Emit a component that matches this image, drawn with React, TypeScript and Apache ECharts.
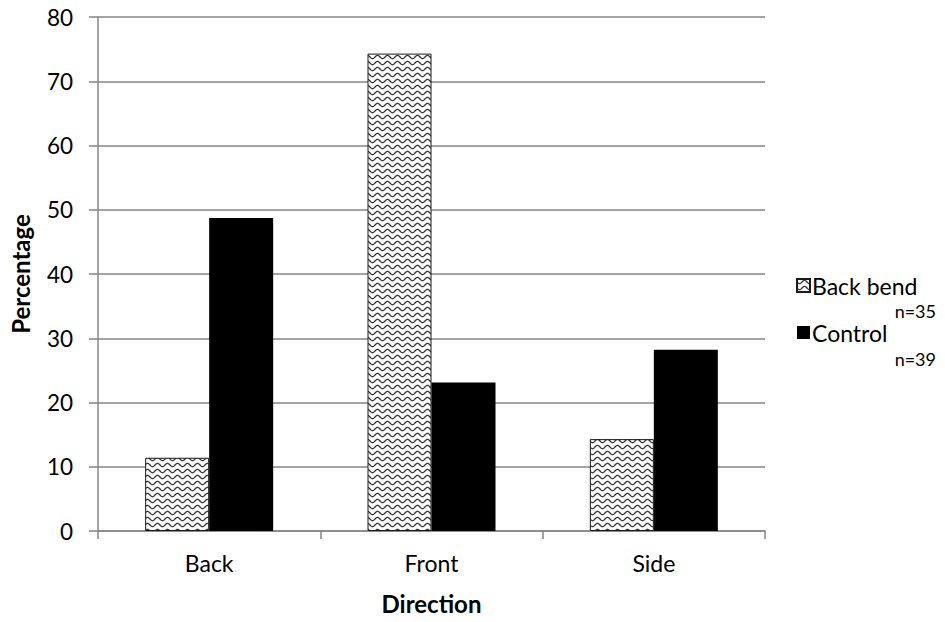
import React, { useEffect, useRef } from "react";
import * as echarts from "echarts";

const categories = ["Back", "Front", "Side"];
const backBend = [11.4, 74.3, 14.3];
const control = [48.7, 23.1, 28.2];
const seriesNames = ["Back bend", "Control"];
const sampleSizes = ["n=35", "n=39"];
const yTicks = { min: 0, max: 80, interval: 10 };

const FONT = "Lato, 'Open Sans', sans-serif";

function makeWavePattern(): HTMLCanvasElement {
  const c = document.createElement("canvas");
  c.width = 10;
  c.height = 6;
  const ctx = c.getContext("2d")!;
  ctx.fillStyle = "#ffffff";
  ctx.fillRect(0, 0, 10, 6);
  ctx.strokeStyle = "#333333";
  ctx.lineWidth = 1.3;
  ctx.beginPath();
  for (let x = -1; x <= 11; x += 0.5) {
    const y = 3 + 1.6 * Math.sin((2 * Math.PI * x) / 10);
    if (x === -1) ctx.moveTo(x, y);
    else ctx.lineTo(x, y);
  }
  ctx.stroke();
  return c;
}

export default function App() {
  const ref = useRef<HTMLDivElement>(null);
  useEffect(() => {
    if (!ref.current) return;
    const chart = echarts.init(ref.current, null, { renderer: "svg" });
    const pattern = { image: makeWavePattern(), repeat: "repeat" as const };
    chart.setOption({
      animation: false,
      backgroundColor: "#ffffff",
      grid: { left: 97, right: 180, top: 17, bottom: 91 },
      legend: {
        orient: "vertical",
        left: 791,
        top: 269,
        icon: "rect",
        itemWidth: 13,
        itemHeight: 13,
        itemGap: 24,
        data: seriesNames,
        textStyle: { fontFamily: FONT, fontSize: 23, color: "#000", lineHeight: 23, padding: [0, 0, 0, -3] },
      },
      graphic: [
        {
          type: "text",
          right: 9,
          top: 302,
          style: { text: sampleSizes[0], fontFamily: FONT, fontSize: 18, fill: "#000" },
        },
        {
          type: "text",
          right: 9,
          top: 350,
          style: { text: sampleSizes[1], fontFamily: FONT, fontSize: 18, fill: "#000" },
        },
      ],
      xAxis: {
        type: "category",
        data: categories,
        name: "Direction",
        nameLocation: "middle",
        nameGap: 60,
        nameTextStyle: { fontFamily: FONT, fontSize: 24, fontWeight: "bold", color: "#000", verticalAlign: "top" },
        axisLine: { lineStyle: { color: "#868686", width: 1.5 } },
        axisTick: { show: true, length: 8, lineStyle: { color: "#868686", width: 1.5 } },
        axisLabel: { fontFamily: FONT, fontSize: 23, color: "#000", margin: 20 },
      },
      yAxis: {
        type: "value",
        min: yTicks.min,
        max: yTicks.max,
        interval: yTicks.interval,
        name: "Percentage",
        nameLocation: "middle",
        nameGap: 66,
        nameRotate: 90,
        nameTextStyle: { fontFamily: FONT, fontSize: 24, fontWeight: "bold", color: "#000" },
        axisLine: { show: true, lineStyle: { color: "#868686", width: 1.5 } },
        axisTick: { show: true, length: 9, lineStyle: { color: "#868686", width: 1.5 } },
        axisLabel: { fontFamily: FONT, fontSize: 22.5, color: "#000", margin: 25 },
        splitLine: { lineStyle: { color: "#868686", width: 1.5 } },
      },
      series: [
        {
          name: seriesNames[0],
          type: "bar",
          data: backBend,
          barWidth: 64,
          barGap: "0%",
          itemStyle: { color: pattern, borderColor: "#1a1a1a", borderWidth: 1 },
        },
        {
          name: seriesNames[1],
          type: "bar",
          data: control,
          barWidth: 64,
          barGap: "0%",
          itemStyle: { color: "#000000" },
        },
      ],
    });
    return () => chart.dispose();
  }, []);
  return <div ref={ref} style={{ width: 945, height: 622, position: "absolute", left: 0, top: 0 }} />;
}
